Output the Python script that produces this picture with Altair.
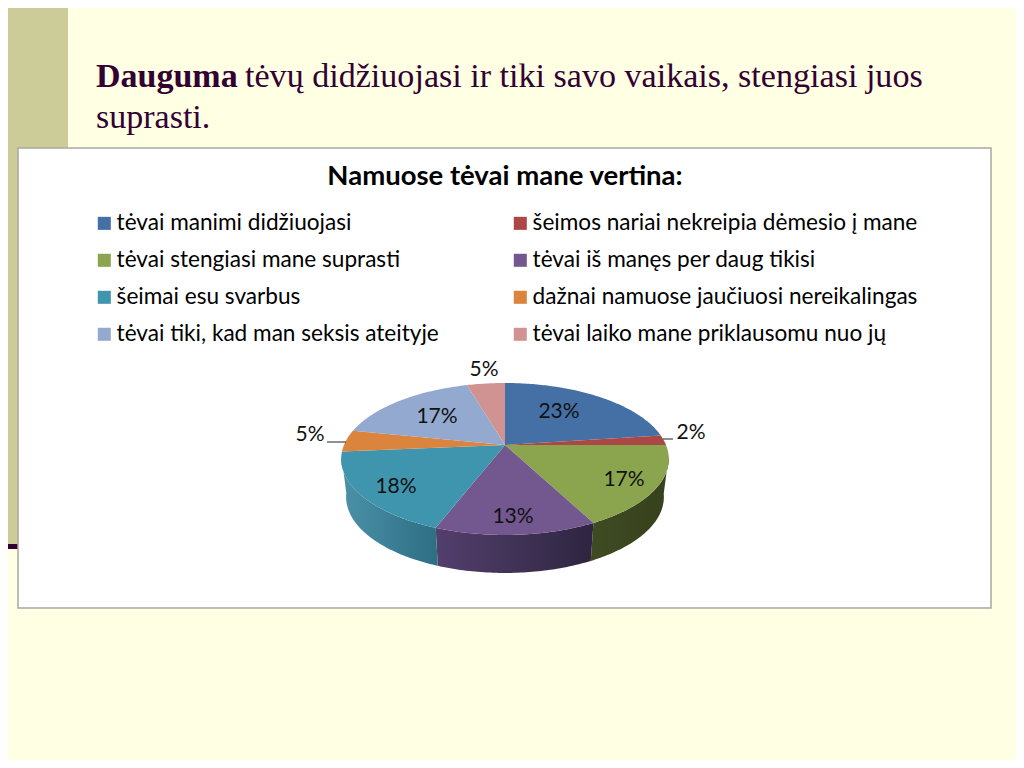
import math
import altair as alt

OFF = 8
names = ["tėvai manimi didžiuojasi", "šeimos nariai nekreipia dėmesio į mane",
         "tėvai stengiasi mane suprasti", "tėvai iš manęs per daug tikisi",
         "šeimai esu svarbus", "dažnai namuose jaučiuosi nereikalingas",
         "tėvai tiki, kad man seksis ateityje", "tėvai laiko mane priklausomu nuo jų"]
values = [22.9, 2.1, 17.4, 13.4, 17.8, 4.6, 17.3, 4.5]
colors = ["#4470A5", "#AB4745", "#8AA54E", "#73578F", "#4095AE", "#DB843D", "#93A9CF", "#D19392"]
legend_order = [0, 2, 4, 6, 1, 3, 5, 7]
wall_left = ["#3A5A85", "#8A3836", "#3F4C22", "#533F6D", "#4C91A9", "#B06A30", "#7488A8", "#A87574"]
wall_right = ["#2D4A70", "#702C2A", "#36401D", "#2E2540", "#2D6E83", "#8E5526", "#5F708C", "#8A6060"]
label_text = ["23%", "2%", "17%", "13%", "18%", "5%", "17%", "5%"]
label_x = [559, 691, 624, 513, 396, 310, 437, 484]
label_y = [412, 433, 480, 517, 487, 435, 417, 370]

CX, CY, B, A, K = 505, 445, 161, 73.4, -0.184
DEPTH, SHRINK = 38, 0.97


def rim(theta):
    u, v = math.sin(theta), -math.cos(theta)
    d = 1 + K * v
    return (CX + B * u / d - OFF, CY + A * v / d - OFF), v


def floor(p):
    cx = CX - OFF
    return (cx + SHRINK * (p[0] - cx), p[1] + DEPTH)


def feature(name, ring):
    ring = [list(p) for p in ring]
    ring.append(ring[0])
    return {"type": "Feature", "properties": {"name": name},
            "geometry": {"type": "Polygon", "coordinates": [ring]}}


tops, walls = [], []
acc = 0
for i, val in enumerate(values):
    a0, a1 = acc / 100 * 2 * math.pi, (acc + val) / 100 * 2 * math.pi
    acc += val
    n = max(2, int(val * 4))
    pts = [rim(a0 + (a1 - a0) * j / n) for j in range(n + 1)]
    tops.append(feature(names[i], [(CX - OFF, CY - OFF)] + [p for p, _ in pts]))
    front = [p for p, v in pts if v >= 0.13]
    if len(front) >= 2:
        walls.append((i, feature(names[i], front + [floor(p) for p in reversed(front)])))

blank = alt.Data(values=[{"a": 1}])


def box(x0, y0, x1, y1, **kw):
    return alt.Chart(blank).mark_rect(**kw).encode(
        x=alt.value(x0 - OFF), x2=alt.value(x1 - OFF),
        y=alt.value(y0 - OFF), y2=alt.value(y1 - OFF))


def text(s, x, y, **kw):
    return alt.Chart(blank).mark_text(text=s, **kw).encode(
        x=alt.value(x - OFF), y=alt.value(y - OFF))


def seg(x0, y0, x1, y1):
    return alt.Chart(blank).mark_rule(color="#222222", strokeWidth=1).encode(
        x=alt.value(x0 - OFF), x2=alt.value(x1 - OFF),
        y=alt.value(y0 - OFF), y2=alt.value(y1 - OFF))


layers = [
    box(0, 0, 68, 545, color="#CCCC99"),
    box(0, 544, 18, 549, color="#330033"),
    box(18, 148, 991, 608, fill="#FFFFFF", stroke="#A8A8A0", strokeWidth=1.5),
    text("Dauguma", 96, 77, font="Liberation Serif", fontSize=34, fontWeight="bold",
         color="#330033", align="left"),
    text("tėvų didžiuojasi ir tiki savo vaikais, stengiasi juos", 245, 77,
         font="Liberation Serif", fontSize=34.1, color="#330033", align="left"),
    text("suprasti.", 96, 118, font="Liberation Serif", fontSize=34, color="#330033", align="left"),
    text("Namuose tėvai mane vertina:", 505, 177, font="Lato", fontSize=27.5, fontWeight="bold",
         color="#000000", align="center"),
]

for i, f in walls:
    grad = alt.LinearGradient(gradient="linear", x1=0, x2=1, y1=0, y2=0, stops=[
        alt.GradientStop(offset=0, color=wall_left[i]),
        alt.GradientStop(offset=1, color=wall_right[i])])
    layers.append(alt.Chart(alt.Data(values=[f])).mark_geoshape(fill=grad, stroke=None)
                  .project(type="identity", scale=1, translate=[0, 0]))

layers.append(
    alt.Chart(alt.Data(values=tops)).mark_geoshape(strokeWidth=0).encode(
        color=alt.Color("properties.name:N",
                        scale=alt.Scale(domain=[names[i] for i in legend_order],
                                        range=[colors[i] for i in legend_order]),
                        legend=alt.Legend(orient="none", legendX=93 - OFF, legendY=212 - OFF,
                                          columns=2, title=None, symbolType="square",
                                          symbolSize=170, symbolStrokeWidth=0,
                                          labelFont="Lato", labelFontSize=22.6, labelColor="#000000",
                                          labelLimit=500, labelOffset=1, rowPadding=14,
                                          columnPadding=70, gridAlign="each"))
    ).project(type="identity", scale=1, translate=[0, 0]))

layers += [seg(663, 439, 673, 439), seg(327, 442, 346, 442)]
for s, x, y in zip(label_text, label_x, label_y):
    layers.append(text(s, x, y, font="Lato", fontSize=21, color="#111111", align="center"))

chart = alt.layer(*layers).properties(
    width=1008, height=752, padding=0, background="#FFFFE3",
    autosize=alt.AutoSizeParams(type="none")
).configure_view(stroke=None)

chart.save("out.html", embed_options={"renderer": "svg", "actions": False})
